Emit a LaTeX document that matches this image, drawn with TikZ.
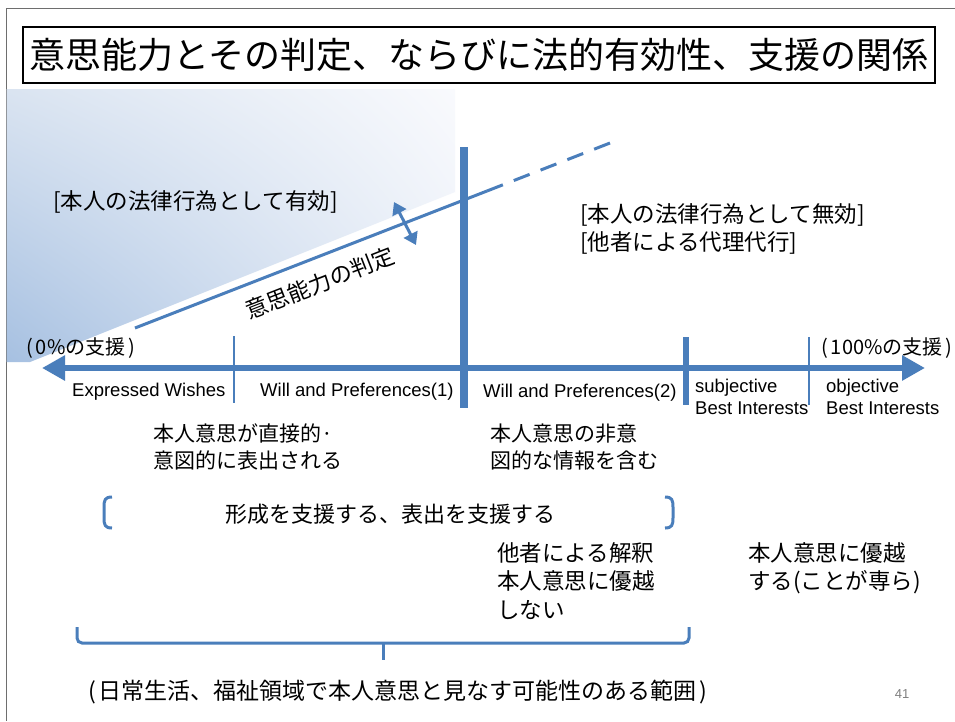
\documentclass[tikz,border=0pt]{standalone}
\usepackage{fontspec}
\setmainfont{Liberation Sans}
\newfontfamily\jp{Noto Sans CJK JP}
\usetikzlibrary{arrows.meta,shadings}
\definecolor{mb}{RGB}{74,126,187}
\definecolor{framegray}{RGB}{110,110,110}
\definecolor{gll}{RGB}{166,192,225}
\definecolor{gul}{RGB}{218,228,241}
\definecolor{gur}{RGB}{249,250,253}
\definecolor{glr}{RGB}{232,238,247}
\tikzset{bigtip/.tip={Triangle[length=23pt,width=24pt]},
         smalltip/.tip={Triangle[length=12pt,width=15pt]}}
\begin{document}
\begin{tikzpicture}[x=1pt,y=-1pt,
  jtxt/.style={font=\jp\fontsize{21}{27}\selectfont, inner sep=0pt, align=left},
  jtxtb/.style={font=\jp\fontsize{22.5}{28.5}\selectfont, inner sep=0pt, align=left},
  etxt/.style={font=\fontsize{18.5}{22}\selectfont, inner sep=0pt, align=left},
  bline/.style={draw=mb, line width=3pt},
  tick/.style={draw=mb}]
\useasboundingbox (0,0) rectangle (955,721);
\fill[white] (0,0) rectangle (955,721);
% slide frame
\draw[framegray, line width=1pt] (955,8) -- (6,8) -- (6,721);
% gradient region
\shade[lower left=gll, upper left=gul, upper right=gur, lower right=glr]
  (6.5,89) -- (455,89) -- (455,192) -- (30,362) -- (6.5,362) -- cycle;
% title
\node[draw=black, line width=2.5pt, minimum width=912pt, minimum height=56pt, inner sep=0pt,
      font=\jp\fontsize{36}{40}\selectfont] (title) at (479,55) {意思能力とその判定、ならびに法的有効性、支援の関係};
% diagonal line
\coordinate (ls) at (135,328);
\coordinate (lm) at (487,191);
\coordinate (le) at (610,143);
\draw[bline] (ls) -- (lm);
\draw[bline, dash pattern=on 17pt off 11.75pt] (lm) -- (le);
% vertical thick bar
\coordinate (vt) at (464,147);
\coordinate (vb) at (464,408);
\draw[draw=mb, line width=8pt] (vt) -- (vb);
% axis
\coordinate (al) at (42,368);
\coordinate (ar) at (925,368);
\draw[draw=mb, line width=6pt, {bigtip}-{bigtip}] (al) -- (ar);
% ticks
\coordinate (t1a) at (234,336); \coordinate (t1b) at (234,403);
\coordinate (t2a) at (686,337); \coordinate (t2b) at (686,405);
\coordinate (t3a) at (809,337); \coordinate (t3b) at (809,405);
\draw[tick, line width=2pt] (t1a) -- (t1b);
\draw[tick, line width=6pt] (t2a) -- (t2b);
\draw[tick, line width=2pt] (t3a) -- (t3b);
% double arrow across line
\coordinate (da) at (394,202);
\coordinate (db) at (416,245);
\draw[draw=mb, line width=3pt, {smalltip}-{smalltip}] (da) -- (db);
% region texts
\node[jtxtb, anchor=west] (valid) at (53,202) {{[}本人の法律行為として有効{]}};
\node[jtxtb, anchor=north west] (invalid) at (580,203) {{[}本人の法律行為として無効{]}\\{[}他者による代理代行{]}};
\node[jtxtb, rotate=21.3] (judge) at (320,283) {意思能力の判定};
% axis labels
\node[jtxt, anchor=west, font=\jp\fontsize{20}{22}\selectfont] (zero) at (26,348) {(\kern3pt0\%の支援\kern3pt)};
\node[jtxt, anchor=west, font=\jp\fontsize{20}{22}\selectfont] (hundred) at (821,348) {(\kern3pt100\%の支援\kern3pt)};
\node[etxt, anchor=west] (ew) at (72,392) {Expressed Wishes};
\node[etxt, anchor=west] (wp1) at (260,392) {Will and Preferences(1)};
\node[etxt, anchor=west] (wp2) at (483,393) {Will and Preferences(2)};
\node[etxt, anchor=north west] (sbi) at (695,379) {subjective\\Best Interests};
\node[etxt, anchor=north west] (obi) at (826,379) {objective\\Best Interests};
% middle texts
\node[jtxt, anchor=north west] (direct) at (153,424) {本人意思が直接的·\\意図的に表出される};
\node[jtxt, anchor=north west] (nonint) at (490,424) {本人意思の非意\\図的な情報を含む};
% brackets
\draw[draw=mb, line width=3pt] (112,497) .. controls (105,497) and (104,500) .. (104,507) -- (104,518)
   .. controls (104,525) and (105,528) .. (112,528);
\draw[draw=mb, line width=3pt] (665,497) .. controls (672,497) and (673,500) .. (673,507) -- (673,518)
   .. controls (673,525) and (672,528) .. (665,528);
\node[jtxt, anchor=center, font=\jp\fontsize{22}{26}\selectfont] (support) at (390,514) {形成を支援する、表出を支援する};
% lower texts
\node[jtxtb, anchor=north west] (interp) at (497,542) {他者による解釈\\本人意思に優越\\しない};
\node[jtxtb, anchor=north west] (overr) at (748,542) {本人意思に優越\\する(ことが専ら)};
% bottom brace
\coordinate (bl) at (77,627);
\coordinate (br) at (689,627);
\coordinate (bm) at (383,643);
\coordinate (btip) at (383,660);
\draw[draw=mb, line width=3pt, rounded corners=5pt] (bl) -- (77,643) -- (bm) -- (689,643) -- (br);
\draw[draw=mb, line width=3pt] (bm) -- (btip);
\node[jtxtb, anchor=center, font=\jp\fontsize{23}{26}\selectfont] (range) at (398,692) {(\kern3pt日常生活、福祉領域で本人意思と見なす可能性のある範囲\kern3pt)};
\node[inner sep=0pt, text=gray, font=\fontsize{13}{15}\selectfont] (pg) at (902,694) {41};
\end{tikzpicture}
\end{document}
